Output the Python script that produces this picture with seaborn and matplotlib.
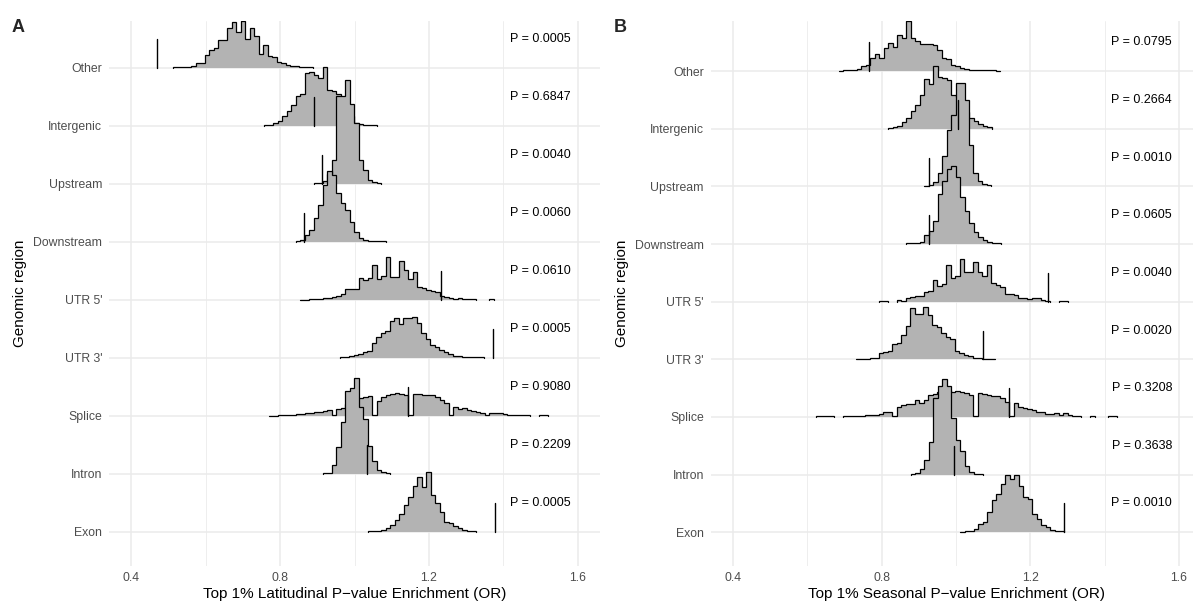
import numpy as np
import matplotlib
matplotlib.use("Agg")
import matplotlib.pyplot as plt
import seaborn as sns

# ---------------- data ----------------
REGIONS = ["Other", "Intergenic", "Upstream", "Downstream", "UTR 5'", "UTR 3'",
           "Splice", "Intron", "Exon"]          # top to bottom

BIN_W_A = 0.0121
BIN_W_B = 0.0121

# first bin edge of each permutation histogram (same order as REGIONS)
A_START = [0.513, 0.757, 0.890, 0.842, 0.854, 0.962, 0.769, 0.914, 1.035]
B_START = [0.684, 0.818, 0.914, 0.866, 0.792, 0.731, 0.623, 0.878, 1.012]

# observed odds ratios (vertical marks)
A_OBS = [0.469, 0.890, 0.912, 0.863, 1.233, 1.372, 1.143, 1.033, 1.378]
B_OBS = [0.767, 1.005, 0.926, 0.927, 1.248, 1.074, 1.144, 0.994, 1.290]

A_P = ["0.0005", "0.6847", "0.0040", "0.0060", "0.0610", "0.0005", "0.9080", "0.2209", "0.0005"]
B_P = ["0.0795", "0.2664", "0.0010", "0.0605", "0.0040", "0.0020", "0.3208", "0.3638", "0.0010"]

# histogram heights (relative density units)
A_OTHER = [1, 1, 2, 3, 4, 15, 15, 38, 54, 58, 83, 83, 118, 136, 108, 141, 86, 120, 96, 40, 68, 36, 32, 18, 13, 8, 5, 4, 3, 2, 2]
A_INTERGENIC = [2, 2, 8, 15, 28, 43, 63, 90, 95, 158, 160, 153, 143, 175, 108, 105, 95, 75, 55, 30, 8, 4, 3, 2, 1]
A_UPSTREAM = [2, 3, 8, 30, 72, 262, 262, 312, 239, 182, 72, 42, 12, 4, 2]
A_DOWNSTREAM = [2, 4, 20, 36, 72, 110, 170, 211, 200, 145, 115, 95, 60, 28, 10, 4, 2, 2, 1, 1]
A_UTR5 = [1, 1, 2, 2, 3, 5, 7, 10, 12, 18, 33, 33, 33, 65, 60, 65, 105, 62, 72, 128, 68, 70, 115, 90, 63, 85, 38, 36, 30, 28, 25, 12, 10, 6, 4, 7, 3, 2, 2, 0, 0, 0, 2]
A_UTR3 = [2, 3, 5, 9, 12, 19, 22, 46, 64, 76, 82, 111, 119, 102, 119, 121, 124, 104, 74, 56, 39, 34, 24, 19, 11, 7, 6, 4, 3, 2, 2, 2]
A_SPLICE = [1, 1, 2, 2, 3, 3, 5, 6, 8, 10, 12, 13, 15, 17, 4, 20, 23, 35, 45, 50, 55, 58, 60, 2, 46, 56, 62, 65, 68, 66, 64, 2, 65, 65, 63, 63, 64, 56, 48, 38, 2, 28, 20, 23, 18, 15, 13, 10, 4, 8, 10, 8, 6, 4, 4, 3, 2, 2, 0, 0, 2, 2]
A_INTRON = [2, 3, 27, 82, 157, 250, 258, 287, 200, 165, 84, 40, 12, 6, 3]
A_EXON = [2, 3, 4, 6, 11, 21, 36, 54, 81, 106, 138, 164, 134, 181, 111, 86, 61, 31, 26, 19, 11, 6, 3, 2]

B_OTHER = [1, 2, 2, 4, 7, 14, 18, 38, 52, 40, 70, 85, 72, 108, 100, 150, 98, 90, 80, 82, 80, 78, 62, 40, 35, 18, 15, 8, 6, 4, 4, 3, 2, 2, 2, 1]
B_INTERGENIC = [2, 4, 8, 20, 32, 52, 72, 102, 150, 134, 187, 154, 152, 147, 100, 95, 60, 50, 32, 22, 15, 8, 4]
B_UPSTREAM = [2, 3, 12, 40, 90, 170, 215, 311, 311, 260, 125, 40, 15, 8, 3]
B_DOWNSTREAM = [2, 3, 4, 6, 27, 40, 70, 150, 190, 225, 235, 200, 140, 100, 62, 35, 20, 12, 5, 3, 2]
B_UTR5 = [2, 2, 0, 0, 6, 3, 10, 15, 16, 18, 30, 32, 64, 46, 54, 110, 70, 78, 128, 90, 90, 118, 90, 78, 110, 55, 50, 45, 24, 24, 20, 12, 10, 8, 10, 12, 5, 3, 0, 0, 2, 2]
B_UTR3 = [1, 1, 2, 3, 5, 18, 22, 24, 46, 50, 73, 100, 153, 135, 136, 158, 133, 103, 96, 80, 68, 62, 26, 18, 13, 9, 5, 3, 2, 2, 1]
B_SPLICE = [2, 2, 2, 2, 0, 0, 2, 2, 2, 3, 4, 7, 5, 6, 10, 14, 16, 3, 30, 35, 38, 40, 52, 42, 50, 65, 70, 75, 80, 80, 75, 78, 75, 72, 65, 2, 72, 70, 66, 64, 62, 58, 44, 2, 42, 30, 27, 24, 22, 16, 14, 8, 8, 12, 6, 12, 5, 3, 2, 0, 0, 2, 0, 0, 0, 2, 2]
B_INTRON = [2, 4, 16, 43, 98, 230, 265, 288, 265, 170, 105, 72, 25, 8, 3, 2]
B_EXON = [2, 3, 5, 11, 26, 31, 61, 96, 116, 146, 173, 161, 173, 138, 106, 100, 56, 41, 21, 16, 8, 5, 3]

A_HISTS = [A_OTHER, A_INTERGENIC, A_UPSTREAM, A_DOWNSTREAM, A_UTR5, A_UTR3, A_SPLICE, A_INTRON, A_EXON]
B_HISTS = [B_OTHER, B_INTERGENIC, B_UPSTREAM, B_DOWNSTREAM, B_UTR5, B_UTR3, B_SPLICE, B_INTRON, B_EXON]

XTICKS = [0.4, 0.8, 1.2, 1.6]
XMINOR = [0.6, 1.0, 1.4]

# ---------------- style ----------------
sns.set_theme(style="white")
plt.rcParams["font.family"] = ["Liberation Sans", "DejaVu Sans"]

W, H = 1193, 605
fig = plt.figure(figsize=(W / 100, H / 100), dpi=100)

GRID = "#EBEBEB"
FILL = "#B3B3B3"
TXT = "#4D4D4D"


def draw_ridge(ax, start, bw, heights, base, scale, z):
    h = np.asarray(heights, dtype=float) / scale
    edges = start + bw * np.arange(len(h) + 1)
    # split into runs of non-empty bins
    i = 0
    n = len(h)
    while i < n:
        if h[i] <= 0:
            i += 1
            continue
        j = i
        while j < n and h[j] > 0:
            j += 1
        xs = [edges[i]]
        ys = [base]
        for k in range(i, j):
            xs += [edges[k], edges[k + 1]]
            ys += [base + h[k], base + h[k]]
        xs.append(edges[j])
        ys.append(base)
        ax.fill(xs, ys, color=FILL, lw=0, zorder=z)
        ax.plot(xs, ys, color="black", lw=0.9, zorder=z + 0.5,
                solid_joinstyle="miter")
        i = j


def panel(left_px, right_px, ylim, starts, bw, hists, obs, pvals, scale, xlabel, letter, letter_x):
    ax = fig.add_axes([left_px / W, (H - 566) / H, (right_px - left_px) / W, 545 / H])
    ax.set_xlim(0.34, 1.66)
    ax.set_ylim(*ylim)
    nrow = len(REGIONS)
    ys = [nrow - i for i in range(nrow)]
    ax.set_xticks(XTICKS)
    ax.set_xticks(XMINOR, minor=True)
    ax.set_xticklabels([f"{t:.1f}" for t in XTICKS])
    ax.set_yticks(ys)
    ax.set_yticklabels(REGIONS)
    ax.grid(which="major", color=GRID, lw=1.1, zorder=0)
    ax.grid(which="minor", axis="x", color=GRID, lw=0.6, zorder=0)
    ax.set_axisbelow(True)
    for s in ax.spines.values():
        s.set_visible(False)
    ax.tick_params(axis="both", which="both", length=0, colors=TXT, labelsize=8.8)
    ax.tick_params(axis="y", pad=5)
    ax.tick_params(axis="x", pad=4)
    for i, (st, hs) in enumerate(zip(starts, hists)):
        draw_ridge(ax, st, bw, hs, ys[i], scale, 10 + i)
    for i, ob in enumerate(obs):
        ax.plot([ob, ob], [ys[i], ys[i] + 0.5], color="black", lw=1.0, zorder=100)
    for i, p in enumerate(pvals):
        ax.text(1.5, ys[i] + 0.5, f"P = {p}", ha="center", va="center",
                fontsize=9, color="black", zorder=101)
    ax.set_xlabel(xlabel, fontsize=11, color="black")
    ax.set_ylabel("Genomic region", fontsize=11, color="black")
    ax.xaxis.set_label_coords(0.5, (566 - 594) / 545)
    ax.xaxis.label.set_va("center")
    ax.yaxis.set_label_coords((letter_x + 2 - left_px) / (right_px - left_px), 0.5)
    ax.yaxis.label.set_va("center")
    fig.text(letter_x / W, 1 - 28 / H, letter, fontsize=13, fontweight="bold",
             ha="center", va="center")
    return ax


panel(109, 600, (0.414, 9.805), A_START, BIN_W_A, A_HISTS, A_OBS, A_P, 174.0,
      "Top 1% Latitudinal P\u2212value Enrichment (OR)", "A", 18)
panel(710.8, 1201.2, (0.415, 9.87), B_START, BIN_W_B, B_HISTS, B_OBS, B_P, 173.0,
      "Top 1% Seasonal P\u2212value Enrichment (OR)", "B", 620)

fig.savefig("out.png", dpi=100)
